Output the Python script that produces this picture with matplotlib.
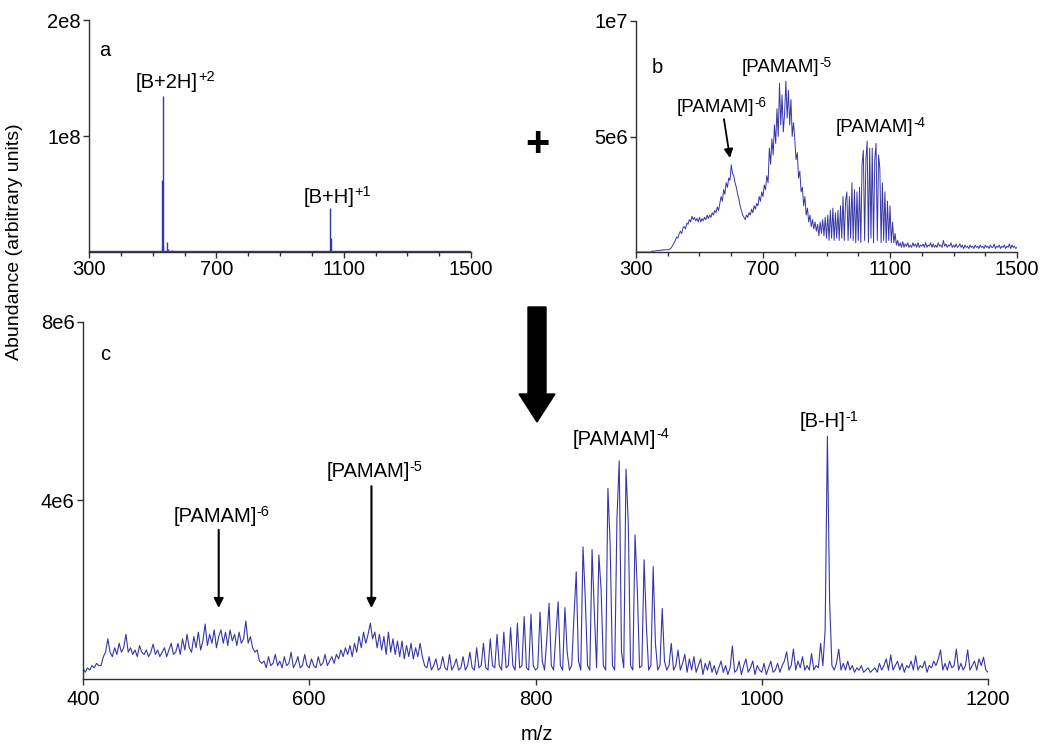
import numpy as np
import matplotlib.pyplot as plt
from matplotlib.patches import Polygon

plt.rcParams['font.family'] = ['Liberation Sans', 'DejaVu Sans']

LINE = '#3636a8'
FS = 14.5

# panel a: peaks (m/z, abundance in 1e8)
a_mz = [530.5, 531, 533, 544, 548, 560, 600, 720, 820, 1058.5, 1059]
a_int = [0.62, 1.35, 0.05, 0.09, 0.03, 0.015, 0.01, 0.01, 0.01, 0.38, 0.12]

# panel b: abundance in 1e5, every 4 m/z from 300 to 1500
b_start, b_step = 300, 4
b_int = [
    0, 0, 0, 0, 0, 0, 0, 0, 0, 0, 0, 0, 0, 0.5, 0.2, 0.5, 0.5, 0.7, 0.5, 0.8, 0.7, 1, 0.8, 1, 1,
    1, 1, 1.5, 2, 3, 4, 5, 6.5, 6, 8, 9, 8, 10.5, 11, 10, 12.5, 12, 14, 13, 15.5, 14, 15, 13.5, 14.5, 13,
    15, 13, 14.5, 13.5, 15, 14, 16, 14.5, 16, 15, 17, 16, 18, 17, 19.5, 18, 21, 24, 22, 27, 25, 30, 28, 32, 31,
    37.7, 34, 33, 30, 28, 25, 23, 20, 18, 16, 15, 14, 16, 15, 17, 16, 18.5, 17, 20, 18.5, 21, 20, 24, 22, 26,
    24, 29, 27, 33, 30, 45, 38, 49, 42, 55, 47, 62, 50, 73, 55, 68, 52, 60, 74, 58, 70, 55, 66, 50, 56,
    49, 40, 43, 32, 35, 26, 28, 20, 24, 16, 19, 13, 16, 11, 14, 10, 13, 9, 12, 7, 13, 8, 14, 7, 15,
    6, 16, 5, 18, 6, 19, 5, 17, 6, 18, 5, 20, 6, 24, 5, 22, 26, 5, 24, 6, 30, 5, 27, 4, 26,
    5, 28, 4, 38, 44, 5, 40, 48, 4, 45, 6, 45, 4, 40, 47, 5, 42, 36, 4, 30, 5, 26, 4, 22, 5,
    20, 4, 13, 4, 8, 3, 5, 2.5, 4, 2, 4.5, 2, 3.5, 2.5, 4, 2, 3, 2, 4, 2.5, 3.5, 2, 4, 2, 3,
    2.5, 3.5, 2, 4, 2, 3, 2.5, 4, 2, 3.5, 2, 3, 2, 4, 2.5, 3, 2, 5, 2.5, 3.5, 2, 3, 2.5, 4, 2,
    3, 2, 3.5, 2, 2.5, 3.5, 2, 3, 1.5, 3, 2, 2.5, 1.5, 3, 2, 2.5, 1.5, 3, 2, 2.5, 1.5, 3, 2, 2.5, 1.5,
    3, 2, 2.5, 1.5, 3, 2, 2, 3.5, 1.5, 2.5, 2, 3, 1.5, 2.5, 2, 3, 1.5, 2.5, 2, 3.5, 1.5, 3, 2, 2.5, 1.5,
    2,
]

# panel c: abundance in 1e5, every 2 m/z from 400 to 1200
c_start, c_step = 400, 2
c_int = [
    2.5, 1.5, 2.5, 2, 3, 2.5, 3.5, 3, 3, 5, 6, 9, 6, 5, 7, 5.5, 8, 6, 7, 10,
    6, 7, 5.5, 6.5, 5, 7.5, 6, 5.5, 6.5, 5, 6, 7.8, 5.5, 6.5, 5, 6, 7, 5, 6.5, 8,
    5.5, 6, 8, 5.5, 9, 6.5, 10, 7, 6, 9.5, 7, 10.5, 6.5, 8.5, 12.3, 7.5, 10, 8, 11, 7,
    9.5, 11, 8, 10.5, 7.5, 11, 8.5, 10, 7.5, 10.5, 8, 9, 13, 8, 9.5, 7, 6, 6.5, 4, 3.5,
    4, 2.5, 5, 3, 3.5, 5.5, 3, 4, 2.5, 5, 3, 3.5, 6, 2.5, 3.5, 5, 2.5, 3, 5.5, 3,
    2.5, 4.5, 3, 2.5, 5, 3, 3.5, 5.5, 3, 4, 5, 3.5, 5.5, 4.5, 6.5, 5, 7, 5.5, 7.5, 5,
    8, 6, 9.5, 7, 10.5, 8, 10, 12.5, 9, 10.5, 7, 10, 6.5, 9.5, 5.5, 10.5, 6, 9, 5.5, 8.5,
    5, 8.5, 4.5, 7.5, 5, 8, 4.5, 7, 5, 8, 5, 3, 2.5, 5, 2, 3, 4.5, 2, 2.5, 5,
    2.5, 2, 5.5, 2, 3, 4.5, 2, 2.5, 5, 2, 3, 6, 2.5, 2, 7, 2.5, 3, 8, 2.5, 2,
    9, 3, 2.5, 10, 3, 2, 10.5, 2.5, 3, 11.5, 3, 2, 12.5, 2.5, 3, 14, 2.5, 2, 14.5, 3,
    2, 2.5, 15, 4, 2, 9, 17, 3, 2, 10, 17.3, 3, 2, 16, 6, 2, 3, 14, 24, 4,
    2, 29.6, 18, 3, 2, 29, 15, 2.5, 27.8, 20, 3, 2, 42.7, 30, 3, 2, 36, 48.9, 6, 2.5,
    47, 35, 3, 2, 32.3, 20, 2.5, 3, 26.7, 12, 2, 3, 25.2, 8, 2, 3, 15.8, 4, 2, 3,
    8, 2, 3, 6.5, 2, 3.5, 5.5, 1.5, 4.5, 2, 5, 1.5, 3, 4.5, 1, 3.5, 2, 4, 1.5, 3,
    1, 2.5, 4, 1.5, 3, 1, 2.5, 7.4, 1.5, 2, 4, 1, 3, 4.5, 1.5, 2.5, 4, 1, 3, 2,
    1.5, 3.5, 1, 2.5, 4, 1.5, 2, 3.5, 1.5, 3, 4, 6.1, 2, 3, 6.7, 2, 4, 2.5, 5, 2,
    3, 2, 5.7, 2, 3, 2.5, 8, 3, 11, 54.4, 17, 3, 2, 3.5, 6.7, 2, 3.5, 2, 4, 2,
    3, 1.5, 2.5, 2, 3, 1.5, 2, 2.5, 1.5, 2, 2.5, 1.5, 3.5, 2, 3, 4.5, 2, 5.4, 2, 3,
    4, 2, 3.5, 1.5, 3, 2.5, 4, 2, 5.2, 2, 3, 2.5, 4, 1.5, 3, 2.5, 4, 3, 4.5, 6.5,
    2, 3.5, 2, 4, 2.5, 3, 6.7, 2, 3.5, 2, 3, 6.5, 2, 3, 4, 2, 4.5, 3, 4.9, 2,
    1.5,
]

b_mz = b_start + b_step * np.arange(len(b_int))
c_mz = c_start + c_step * np.arange(len(c_int))

fig = plt.figure(figsize=(10.5, 7.5), dpi=100)
ax_a = fig.add_axes([0.0848, 0.664, 0.3638, 0.309])
ax_b = fig.add_axes([0.6057, 0.664, 0.3629, 0.308])
ax_c = fig.add_axes([0.079, 0.0947, 0.862, 0.476])


def style(ax):
    for s in ['top', 'right']:
        ax.spines[s].set_visible(False)
    for s in ['left', 'bottom']:
        ax.spines[s].set_color('#303030')
        ax.spines[s].set_linewidth(1.0)
    ax.tick_params(direction='out', length=4, width=1, labelsize=FS, pad=2, colors='#303030', labelcolor='black')
    ax.tick_params(which='minor', direction='out', length=3, width=1, colors='#303030')


def ion_label(ax, x, y, main, sup, size=FS):
    # main text plus a short-dash superscript, roughly centred on x
    sup_size = size * 0.72
    shift = -0.5 * len(sup) * 0.556 * sup_size
    t = ax.annotate(main, xy=(x, y), xytext=(shift, 0), textcoords='offset points',
                    fontsize=size, ha='center', va='center')
    ax.annotate(sup, xy=(1.0, 0.78), xycoords=t, fontsize=sup_size, ha='left', va='center')
    return t


# a
ax_a.vlines(a_mz, 0, np.array(a_int) * 1e8, color=LINE, lw=1.0)
ax_a.axhline(0.006e8, color=LINE, lw=1.0)
ax_a.set_xlim(300, 1500)
ax_a.set_ylim(0, 2e8)
ax_a.set_xticks([300, 700, 1100, 1500])
ax_a.set_xticks(np.arange(300, 1501, 100), minor=True)
ax_a.set_yticks([1e8, 2e8])
ax_a.set_yticklabels(['1e8', '2e8'])
style(ax_a)
ax_a.text(350, 1.74e8, 'a', fontsize=FS, ha='center', va='center')
ion_label(ax_a, 570, 1.466e8, '[B+2H]', '+2')
ion_label(ax_a, 1079, 0.474e8, '[B+H]', '+1')

# b
ax_b.plot(b_mz, np.array(b_int) * 1e5, color=LINE, lw=0.7)
ax_b.set_xlim(300, 1500)
ax_b.set_ylim(0, 1e7)
ax_b.set_xticks([300, 700, 1100, 1500])
ax_b.set_xticks(np.arange(300, 1501, 100), minor=True)
ax_b.set_yticks([5e6, 1e7])
ax_b.set_yticklabels(['5e6', '1e7'])
style(ax_b)
ax_b.text(366, 8.0e6, 'b', fontsize=FS, ha='center', va='center')
ion_label(ax_b, 779, 7.97e6, '[PAMAM]', '-5', size=13.5)
ion_label(ax_b, 1075, 5.37e6, '[PAMAM]', '-4', size=13.5)
ion_label(ax_b, 574, 6.24e6, '[PAMAM]', '-6', size=13.5)
ax_b.annotate('', xy=(596, 4.07e6), xytext=(577, 5.75e6),
              arrowprops=dict(arrowstyle='-|>', color='black', lw=1.3, mutation_scale=13,
                              shrinkA=0, shrinkB=0))

# c
ax_c.plot(c_mz, np.array(c_int) * 1e5, color=LINE, lw=0.8)
ax_c.set_xlim(400, 1200)
ax_c.set_ylim(0, 8e6)
ax_c.set_xticks([400, 600, 800, 1000, 1200])
ax_c.set_yticks([4e6, 8e6])
ax_c.set_yticklabels(['4e6', '8e6'])
style(ax_c)
ax_c.tick_params(axis='x', pad=4)
ax_c.text(419.5, 7.26e6, 'c', fontsize=FS, ha='center', va='center')
ion_label(ax_c, 877, 5.36e6, '[PAMAM]', '-4')
ion_label(ax_c, 1061, 5.76e6, '[B-H]', '-1')
for sup, x, ytxt, ytop in [('-6', 520, 3.63e6, 3.34e6),
                           ('-5', 655, 4.64e6, 4.32e6)]:
    ion_label(ax_c, x + 4, ytxt, '[PAMAM]', sup)
    ax_c.annotate('', xy=(x, 1.59e6), xytext=(x, ytop),
                  arrowprops=dict(arrowstyle='-|>', color='black', lw=1.5, mutation_scale=14,
                                  shrinkA=0, shrinkB=0))

# big arrow between rows and plus sign
W, H = 1050.0, 750.0
arrow_px = [(528, 307), (546, 307), (546, 394), (555, 394), (537, 422), (519, 394), (528, 394)]
fig.add_artist(Polygon([(x / W, 1 - y / H) for x, y in arrow_px], closed=True,
                       transform=fig.transFigure, color='black'))
fig.text(537 / W, 1 - 145 / H, '+', fontsize=30, fontweight='bold', ha='center', va='center')

fig.text(15 / W, 1 - 242 / H, 'Abundance (arbitrary units)', fontsize=14, rotation=90,
         ha='center', va='center')
fig.text(537 / W, 1 - 735 / H, 'm/z', fontsize=FS, ha='center', va='center')

fig.savefig('out.png', dpi=100)
